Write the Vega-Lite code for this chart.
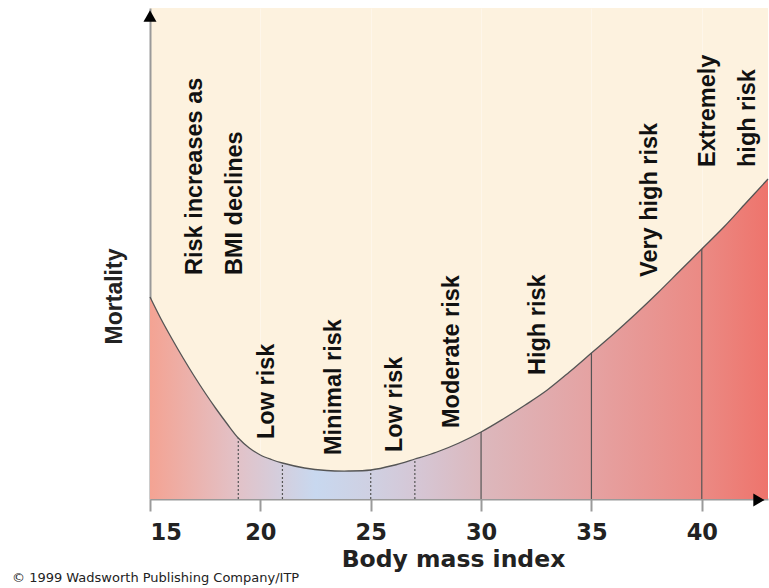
{
  "$schema": "https://vega.github.io/schema/vega-lite/v6.json",
  "width": 618,
  "height": 491,
  "autosize": "none",
  "padding": {"left": 150, "top": 8, "right": 1, "bottom": 89},
  "background": "#ffffff",
  "config": {
    "view": {"fill": "#FDF2DF", "stroke": null}
  },
  "title": {
    "text": "© 1999 Wadsworth Publishing Company/ITP",
    "orient": "bottom",
    "anchor": "start",
    "frame": "group",
    "dx": -138,
    "offset": 1,
    "font": "DejaVu Sans",
    "fontSize": 13,
    "fontWeight": "normal",
    "color": "#222222",
    "baseline": "top"
  },
  "datasets": {
    "curve": [
      {"bmi": 15, "m": 202}, {"bmi": 15.5, "m": 180}, {"bmi": 16, "m": 160},
      {"bmi": 16.5, "m": 141}, {"bmi": 17, "m": 123}, {"bmi": 17.5, "m": 106},
      {"bmi": 18, "m": 90}, {"bmi": 18.5, "m": 75}, {"bmi": 19, "m": 61},
      {"bmi": 19.5, "m": 51}, {"bmi": 20, "m": 44}, {"bmi": 20.5, "m": 39.5},
      {"bmi": 21, "m": 36}, {"bmi": 22, "m": 31}, {"bmi": 23, "m": 28.5},
      {"bmi": 24, "m": 28}, {"bmi": 25, "m": 29}, {"bmi": 26, "m": 33.5},
      {"bmi": 27, "m": 40}, {"bmi": 28, "m": 47}, {"bmi": 29, "m": 56},
      {"bmi": 30, "m": 67}, {"bmi": 31, "m": 80}, {"bmi": 32, "m": 94},
      {"bmi": 33, "m": 109}, {"bmi": 34, "m": 127}, {"bmi": 35, "m": 146},
      {"bmi": 36, "m": 165}, {"bmi": 37, "m": 185}, {"bmi": 38, "m": 206},
      {"bmi": 39, "m": 228}, {"bmi": 40, "m": 250}, {"bmi": 41, "m": 272},
      {"bmi": 42, "m": 296}, {"bmi": 43, "m": 320}
    ],
    "bounds": [
      {"bmi": 19, "m": 0, "top": 61, "kind": "dotted"},
      {"bmi": 21, "m": 0, "top": 36, "kind": "dotted"},
      {"bmi": 25, "m": 0, "top": 29, "kind": "dotted"},
      {"bmi": 27, "m": 0, "top": 40, "kind": "dotted"},
      {"bmi": 30, "m": 0, "top": 67, "kind": "solid"},
      {"bmi": 35, "m": 0, "top": 146, "kind": "solid"},
      {"bmi": 40, "m": 0, "top": 250, "kind": "solid"}
    ],
    "labels": [
      {"bmi": 17.04, "m": 224, "label": "Risk increases as"},
      {"bmi": 18.85, "m": 224, "label": "BMI declines"},
      {"bmi": 20.3, "m": 60, "label": "Low risk"},
      {"bmi": 23.34, "m": 44, "label": "Minimal risk"},
      {"bmi": 26.1, "m": 47, "label": "Low risk"},
      {"bmi": 28.7, "m": 71, "label": "Moderate risk"},
      {"bmi": 32.56, "m": 124, "label": "High risk"},
      {"bmi": 37.65, "m": 222, "label": "Very high risk"},
      {"bmi": 40.28, "m": 332, "label": "Extremely"},
      {"bmi": 42.1, "m": 332, "label": "high risk"}
    ],
    "arrows": [
      {"bmi": 15, "m": 483, "shape": "triangle-up"},
      {"bmi": 42.59, "m": -1, "shape": "triangle-right"}
    ]
  },
  "encoding": {
    "x": {
      "field": "bmi",
      "type": "quantitative",
      "scale": {"domain": [15, 43], "nice": false, "zero": false},
      "axis": {
        "title": "Body mass index",
        "values": [15, 20, 25, 30, 35, 40],
        "domainColor": "#9a9a9a",
        "domainWidth": 2,
        "tickColor": "#9a9a9a",
        "tickSize": 12,
        "tickWidth": 2,
        "labelFont": "DejaVu Sans",
        "labelFontWeight": "bold",
        "labelFontSize": 22.5,
        "labelColor": "#222222",
        "labelBaseline": "alphabetic",
        "labelPadding": 28,
        "grid": true,
        "gridColor": "#ffffff",
        "gridOpacity": 0.35,
        "gridWidth": 1,
        "titleFont": "DejaVu Sans",
        "titleFontSize": 23.5,
        "titleFontWeight": "bold",
        "titleColor": "#222222",
        "titleX": 303,
        "titleY": 67,
        "titleBaseline": "alphabetic"
      }
    },
    "y": {
      "field": "m",
      "type": "quantitative",
      "scale": {"domain": [0, 491], "nice": false, "zero": false},
      "axis": {
        "title": "Mortality",
        "domainColor": "#9a9a9a",
        "domainWidth": 2,
        "ticks": false,
        "labels": false,
        "grid": false,
        "titleFont": "Liberation Sans",
        "titleFontSize": 23,
        "titleFontWeight": "bold",
        "titleColor": "#222222",
        "titleAngle": 270,
        "titleX": -36,
        "titleY": 288,
        "titleAlign": "center",
        "titleBaseline": "middle"
      }
    }
  },
  "layer": [
    {
      "data": {"name": "curve"},
      "mark": {
        "type": "area",
        "interpolate": "catmull-rom",
        "color": {
          "gradient": "linear",
          "x1": 0, "x2": 1, "y1": 0, "y2": 0,
          "stops": [
            {"offset": 0, "color": "#F4A393"},
            {"offset": 0.143, "color": "#E2C2C8"},
            {"offset": 0.268, "color": "#C8D8EF"},
            {"offset": 0.357, "color": "#CFD0E2"},
            {"offset": 0.429, "color": "#D5C7D6"},
            {"offset": 0.536, "color": "#DCB8BD"},
            {"offset": 0.714, "color": "#E5A2A2"},
            {"offset": 0.893, "color": "#EB8A84"},
            {"offset": 1, "color": "#EE746C"}
          ]
        }
      }
    },
    {
      "data": {"name": "curve"},
      "mark": {"type": "line", "interpolate": "catmull-rom", "color": "#555555", "strokeWidth": 1.3}
    },
    {
      "data": {"name": "bounds"},
      "mark": {"type": "rule", "color": "#555555", "strokeWidth": 1.2},
      "encoding": {
        "y2": {"field": "top"},
        "strokeDash": {
          "field": "kind",
          "type": "nominal",
          "scale": {"domain": ["dotted", "solid"], "range": [[2, 2], [1, 0]]},
          "legend": null
        }
      }
    },
    {
      "data": {"name": "labels"},
      "mark": {
        "type": "text",
        "angle": 270,
        "align": "left",
        "baseline": "middle",
        "font": "Liberation Sans",
        "fontWeight": "bold",
        "fontSize": 23.5,
        "color": "#111111"
      },
      "encoding": {"text": {"field": "label"}}
    },
    {
      "data": {"name": "arrows"},
      "mark": {"type": "point", "filled": true, "color": "#000000", "opacity": 1, "size": 170},
      "encoding": {
        "shape": {"field": "shape", "type": "nominal", "scale": null}
      }
    }
  ]
}
